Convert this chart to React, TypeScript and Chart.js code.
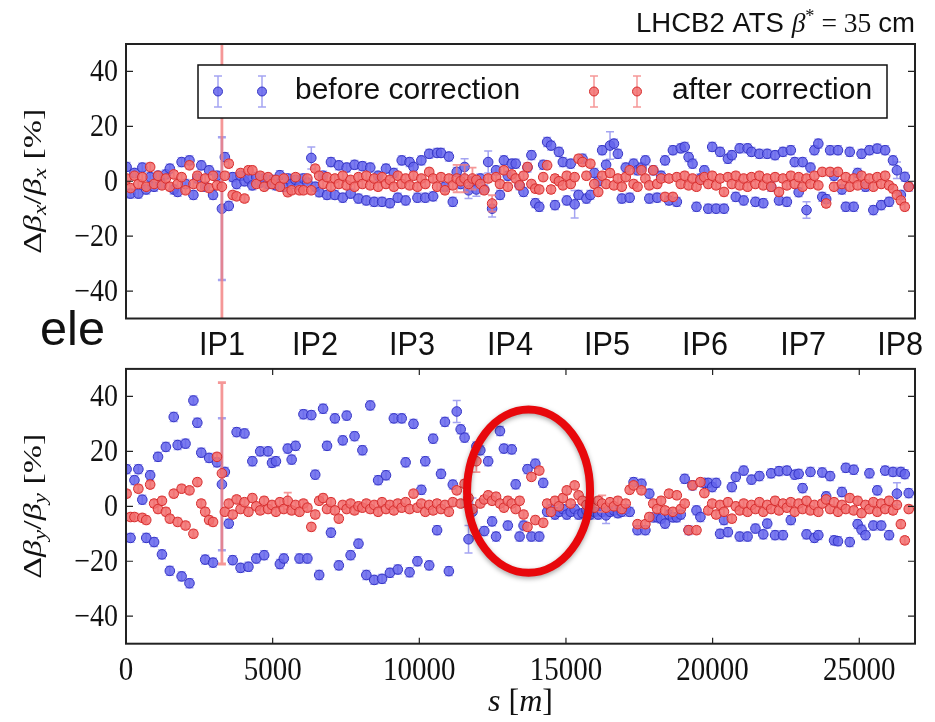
import React, { useEffect, useRef } from "react";
import { Chart, registerables } from "chart.js";
Chart.register(...registerables);

const SANS = '"Liberation Sans", Arial, sans-serif';
const SERIF = '"Liberation Serif", "Times New Roman", serif';

// BPM longitudinal positions s [m]
const S = [20,154,288,422,556,690,824,958,1092,1226,1360,1494,1628,1762,1896,2030,2164,2298,2432,2566,
2700,2834,2968,3102,3270,3370,3504,3638,3772,3906,4040,4174,4308,4442,4576,4710,4844,4978,5112,5246,
5380,5514,5648,5782,5916,6050,6184,6318,6452,6586,6720,6854,6988,7122,7256,7390,7524,7658,7792,7926,
8060,8194,8328,8462,8596,8730,8864,8998,9132,9266,9400,9534,9668,9802,9936,10070,10204,10338,10472,10606,
10740,10874,11008,11142,11276,11410,11544,11678,11812,11946,12080,12214,12348,12482,12616,12750,12884,13018,13152,13286,
13420,13554,13688,13822,13956,14090,14224,14358,14492,14626,14760,14894,15028,15162,15296,15430,15564,15698,15832,15966,
16100,16234,16368,16502,16636,16770,16904,17038,17172,17306,17440,17574,17708,17842,17976,18110,18244,18378,18512,18646,
18780,18914,19048,19182,19316,19450,19584,19718,19852,19986,20120,20254,20388,20522,20656,20790,20924,21058,21192,21326,
21460,21594,21728,21862,21996,22130,22264,22398,22532,22666,22800,22934,23068,23202,23336,23470,23604,23738,23872,24006,
24140,24274,24408,24542,24676,24810,24944,25078,25212,25346,25480,25614,25748,25882,26016,26150,26284,26418,26552,26686];

// Horizontal beta-beating [%]
const BX_BEFORE = [5.2,-4.5,3,-4.5,5,-3,1.5,-2,2,-1,
2.5,4.6,-3,-3.9,7,-1,7.6,-5,1,5.8,
-2,4,-5,2,-10,8.8,-9,1.5,-1,2,
0,1,-1.5,1.5,-0.5,1,-1,0.5,-1.5,2.2,
-2,1,-1,0.5,-1.5,1,-0.5,8.5,-2,-4,
2,-5,7,-5,5.8,-6,5,-4.5,6,-6.3,
5.5,-7,5,-7.5,2,-7.5,4.6,-8,3,-6,
7.6,-7,7,5.2,-6,7.6,-6,10,-5.5,10.3,
10.3,-2,9,-7.5,3.4,-1,5.2,-3.3,0,-3,
1,-3,7,-10,4,-5,7.6,2,6.4,6.4,
-1.5,-3.9,5,9.5,-8,-9.3,6,14.3,13,-8.7,
10.7,7,-7,6.4,-8.4,-5,8.2,-6.3,-5,3,
0,11.3,6,13,13.7,10,-6.3,5,-6,6.4,
4,5,7.6,-6.3,4,-6,2,7.6,-7,11.3,
-7.5,12,12.5,8.8,6.4,-9.3,1,4,-10,12.5,
-10,10.7,-10,8.2,9.5,-5.7,12,-7,12,10.7,
-7.5,10,-8,10,-2,9.5,-7,10.7,-7.5,11.3,
7,-4,7,-10.5,5,11.3,13.7,-5.7,-6.5,11.3,
2,11.3,-3,-9.3,10.7,-9.3,3,10,-2,11.3,
-10.5,11.9,-8.7,11.3,-7.5,7.6,4,-5,1.6,-2];

const BX_AFTER = [1,-2.5,2,-1,1.5,-2,5.2,-1,2,-1.5,
1,-2,2.5,-1,1.5,-3.3,5.8,-1,2,-2,
1,-2.5,2,-1.5,-2,2,6.4,-5,-5.5,3,
-6.3,4,4,-1,2,-2,1.5,-1,0.5,-2,
1,-4,-3.3,1.5,-3.3,-3.3,1,-3.3,4.6,2,
-1,1.5,-2,1,-1,2,-1.5,0.5,-2,1.5,
-1,2,-1.5,1,-2,1.5,-1,0.5,-2,2,
-1,1,-1.5,2,-2,1,-1,3.4,1,-2,
1.5,-3.3,1,-1.5,1,0,1,-1,1,0.5,
-1,-3.3,1,-8.1,1.5,-1,4,-2,2.5,1,
-1.5,2,5.2,-1,-2.7,-3,1.5,5.8,-3,1,
0,-1.5,2,-1,1.5,8.2,7,2,6.4,-1,
-3.9,2,-1,3,-1.5,1,-2,1.5,4,-1,
-2,4,1,-1.5,4,-1,1,-5.7,1,-5.7,
1.5,-1,2,-1.5,1,-2,0.5,1.5,-1,2,
-1.5,1,-3.9,1.5,-1,2,-1.5,1,-2,1.5,
-1,2,-1.5,1,-2,1.5,-3.9,1,-1.5,2,
-1,1.5,-2,1,-1,2,-1.5,3.4,-8.1,3.4,
-2,3.4,-1,1.5,-2,1,-1.5,2,-1,1,
-2,1.5,-1,2,-1.5,-2.7,-5,-7,-9.3,-2];

// Vertical beta-beating [%]
const BY_BEFORE = [13.5,-11.5,9.5,13.5,2.4,-11.5,11.3,-13,18,-17.5,
21.6,-23.5,32.5,22.3,-25.5,22.8,-28,38.5,30.4,19.5,
-19.4,17.6,-20.5,16,8,12.5,-6.3,-19.6,27,-22.4,
26.5,-22,16.4,-19,20,-17.8,20,15.8,16.4,-21,
-19,21,17,22,-19,33.5,-19,33.2,11.5,-25,
35.5,22,-9.6,32,-21.5,24,33,-17.8,25.5,-13.6,
20.4,-25,36.7,-26.8,9.5,-26.4,11.3,-24.2,32,-23,
32,16,-24,30,-20,6,16.4,-21.5,24.6,-8.7,
11.8,30.7,-23.6,7.9,34.5,28,25,-12,-2,21.8,
20.4,-9,16.4,-5.5,-11,27.4,21,-7,20.7,8,
-11,-7,13.5,-11,15.5,-11,8.5,-2,-1,-3,
-2,-1,-3,-2,-1,-3,-2.5,-1.5,-3,-2,
-3,-2,-3.3,-2,-1.5,-2.5,-2,-1,-2,8.8,
-8.7,8.2,-8.7,4.6,-4,-4,-4.5,-6.3,-3,-4,
-4,-3,10,-8.7,7.6,-1.5,-3.9,8.5,8.5,7,
8.5,-10,-5,-9.4,7,10.7,-11,13,-11,9.7,
-8.1,11,-10.2,-6.3,12,-10.5,12.8,-10.5,13,-5,
11.5,11.8,6.6,-10.2,12.5,-11.5,-10.5,12.3,3.6,11,
-12.4,-12.7,5.2,14,-13,13.3,-6.5,-8.5,-10.5,12,
-7,5.8,-7,13,-10.5,12.5,4.6,12.5,11.7,4.8];

const BY_AFTER = [4.6,-3.9,-3.9,6.4,-4.2,-5,7.9,1,-1,2,
-2,-4.5,4.6,-5.7,6.4,-7,5.8,-10,8.8,1,
-2,-5,-5.7,18,12,-2,1,-3,2.5,-1,
1.5,-2,3,0,-1.5,2,-1,0.5,-2,1.5,
-1,2,-1.5,0.5,-2,1,-0.5,-7.5,-3,2,
3,-1,1.5,-1.5,-4.5,0.5,-1,1,-1.5,0,
-0.5,1,-1,0.5,-2,1.5,-1,0.5,-1.5,1,
-0.5,1.5,-1,4.6,-0.5,1,-2,0.5,-1.5,1,
-1,0.5,-2,1.5,5.8,1,8.2,3,-1,16.4,
1,2.5,4,2,3.5,1,-0.5,2,1,-1,
2,-3,-7.5,10.7,-5,13,-6,1,-2,2,
0,3,5.8,1,7.6,4,2,0.5,1.5,-0.5,
2,1,-0.5,1.5,0,2,-1,1,6,7.6,
-6.5,5.8,-6.5,-3.9,1,-1,2,-1.5,4.6,-2,
4,-1,1,-8.7,7.6,-8.7,8.8,4.8,-1.5,1,
-3,0.5,-2,1.5,-4.5,0,-1.5,1,-2,0.5,
-1,1.5,-2,0.5,-1,2,-1.5,1,-0.5,1.5,
-2,1,-1,2,-1.5,0.5,-2,1,2.5,-1,
1.5,-2,0.5,-1,3,-1.5,2,-2.5,0.5,-1,
1.5,-2,1,-1,2,-1.5,0.5,-6.5,-12.4,-1];

// Error bars: typical size and the few larger ones [bpm index, error %]
const ERR_BEFORE = 1.6;
const ERR_AFTER = 1.3;
const BX_BEFORE_ERR: [number, number][] = [[24, 26], [47, 4], [86, 3], [87, 3], [89, 2.5], [92, 4], [93, 3], [114, 5], [123, 5], [173, 3], [196, 3]];
const BX_AFTER_ERR: [number, number][] = [[24, 60], [84, 5], [86, 5], [88, 4], [93, 3]];
const BY_BEFORE_ERR: [number, number][] = [[24, 24], [84, 4], [87, 5], [88, 5], [122, 3], [196, 4]];
const BY_AFTER_ERR: [number, number][] = [[24, 33], [41, 3], [89, 4], [121, 3]];

const IP_LABELS = ["IP1", "IP2", "IP3", "IP4", "IP5", "IP6", "IP7", "IP8"];
const IP_POS = [3274, 6445, 9753, 13094, 16402, 19744, 23086, 26393];
const X_TICKS = [0, 5000, 10000, 15000, 20000, 25000];
const Y_TICKS = [-40, -20, 0, 20, 40];
const X_RANGE = [0, 26900];
const Y_RANGE = [-50, 50];

const TITLE = "LHCB2 ATS";
const LEGEND_BEFORE = "before correction";
const LEGEND_AFTER = "after correction";
// highlighted region (s [m], Δβ [%])
const HIGHLIGHT = { s: 13725, v: 5.5, rs: 2097, rv: 29.7 };

const BLUE_FILL = "rgba(100,100,236,0.85)";
const BLUE_EDGE = "#3434c4";
const BLUE_ERR = "rgba(125,125,235,0.7)";
const RED_FILL = "rgba(242,110,110,0.85)";
const RED_EDGE = "#d62c2c";
const RED_ERR = "rgba(242,125,125,0.8)";

function points(vals: number[], errDefault: number, over: [number, number][]) {
  const m = new Map(over);
  return S.map((s, i) => ({ x: s, y: vals[i], err: m.has(i) ? (m.get(i) as number) : errDefault }));
}

type Seg = { t: string; font: string; dy?: number };
function drawSegs(ctx: CanvasRenderingContext2D, segs: Seg[], x: number, y: number, align: string, targetW?: number, sy = 1) {
  let w = 0;
  const ws: number[] = [];
  for (const s of segs) { ctx.font = s.font; const m = ctx.measureText(s.t).width; ws.push(m); w += m; }
  const sx = targetW ? targetW / w : 1;
  ctx.save();
  ctx.translate(x, y);
  ctx.scale(sx, sy);
  ctx.textBaseline = "alphabetic";
  ctx.textAlign = "left";
  let cx = align === "left" ? 0 : align === "center" ? -w / 2 : -w;
  segs.forEach((s, i) => { ctx.font = s.font; ctx.fillText(s.t, cx, s.dy || 0); cx += ws[i]; });
  ctx.restore();
}

const CAP = 4;
const errorBarPlugin = {
  id: "errbars",
  beforeDatasetDraw(chart: any, args: any) {
    const ds = chart.data.datasets[args.index];
    const ctx = chart.ctx, ys = chart.scales.y, a = chart.chartArea;
    ctx.save();
    ctx.beginPath();
    ctx.rect(a.left, a.top, a.right - a.left, a.bottom - a.top);
    ctx.clip();
    ctx.strokeStyle = ds.errColor;
    args.meta.data.forEach((el: any, i: number) => {
      const p = ds.data[i];
      const x = el.x;
      const y1 = ys.getPixelForValue(p.y + p.err), y2 = ys.getPixelForValue(p.y - p.err);
      ctx.lineWidth = p.err > 20 ? ds.errWidth + 1 : ds.errWidth;
      ctx.beginPath();
      ctx.moveTo(x, y1); ctx.lineTo(x, y2);
      ctx.moveTo(x - CAP, y1); ctx.lineTo(x + CAP, y1);
      ctx.moveTo(x - CAP, y2); ctx.lineTo(x + CAP, y2);
      ctx.stroke();
    });
    ctx.restore();
  },
};

function yLabelSegs(sub: string): Seg[] {
  const n = `26px ${SERIF}`, it = `italic 26px ${SERIF}`, sb = `italic 18px ${SERIF}`;
  return [
    { t: "Δ", font: n }, { t: "β", font: it }, { t: sub, font: sb, dy: 5 },
    { t: "/", font: n }, { t: "β", font: it }, { t: sub, font: sb, dy: 5 },
    { t: " [%]", font: n },
  ];
}

function makeDecor(panel: "top" | "bottom") {
  return {
    id: "decor-" + panel,
    afterDraw(chart: any) {
      const ctx = chart.ctx as CanvasRenderingContext2D;
      const a = chart.chartArea, xs = chart.scales.x, ys = chart.scales.y;
      const off = panel === "top" ? 0 : 360;
      ctx.save();
      if (panel === "bottom") {
        const cx = xs.getPixelForValue(HIGHLIGHT.s), cy = ys.getPixelForValue(HIGHLIGHT.v);
        const rx = xs.getPixelForValue(HIGHLIGHT.s + HIGHLIGHT.rs) - cx;
        const ry = cy - ys.getPixelForValue(HIGHLIGHT.v + HIGHLIGHT.rv);
        ctx.save();
        ctx.shadowColor = "rgba(0,0,0,0.35)";
        ctx.shadowBlur = 5;
        ctx.shadowOffsetY = 2;
        ctx.strokeStyle = "#e8080c";
        ctx.lineWidth = 8;
        ctx.beginPath();
        ctx.ellipse(cx, cy, rx, ry, 0, 0, Math.PI * 2);
        ctx.stroke();
        ctx.restore();
      }
      // frame
      ctx.strokeStyle = "#222";
      ctx.lineWidth = 2;
      ctx.strokeRect(a.left, a.top, a.right - a.left, a.bottom - a.top);
      ctx.lineWidth = 1.2;
      ctx.beginPath();
      for (const t of Y_TICKS) {
        const y = ys.getPixelForValue(t);
        ctx.moveTo(a.left, y); ctx.lineTo(a.left + 7, y);
        ctx.moveTo(a.right, y); ctx.lineTo(a.right - 7, y);
      }
      if (panel === "bottom") {
        for (const t of X_TICKS) {
          const x = xs.getPixelForValue(t);
          ctx.moveTo(x, a.top); ctx.lineTo(x, a.top + 6);
          ctx.moveTo(x, a.bottom); ctx.lineTo(x, a.bottom - 6);
        }
      }
      ctx.stroke();
      ctx.fillStyle = "#111";
      // y tick labels
      for (const t of Y_TICKS) {
        const y = ys.getPixelForValue(t);
        const txt = t < 0 ? "\u2212" + Math.abs(t) : String(t);
        drawSegs(ctx, [{ t: txt, font: `28px ${SERIF}` }], a.left - 8, y + 10, "right", undefined, 1.12);
      }
      // y axis label
      ctx.save();
      ctx.translate(41, (a.top + a.bottom) / 2);
      ctx.rotate(-Math.PI / 2);
      drawSegs(ctx, yLabelSegs(panel === "top" ? "x" : "y"), 0, 0, "center", 145);
      ctx.restore();
      if (panel === "top") {
        IP_POS.forEach((p, i) => {
          drawSegs(ctx, [{ t: IP_LABELS[i], font: `28px ${SANS}` }], xs.getPixelForValue(p), 355, "center", 46, 1.2);
        });
        // title
        drawSegs(ctx, [
          { t: TITLE + " ", font: `24px ${SANS}` },
          { t: "β", font: `italic 24px ${SERIF}` },
          { t: "*", font: `16px ${SERIF}`, dy: -9 },
          { t: " = 35 ", font: `24px ${SERIF}` },
          { t: "cm", font: `24px ${SANS}` },
        ], 915, 32, "right", 279, 1.15);
        // slide text fragment
        drawSegs(ctx, [{ t: "ele", font: `48px ${SANS}` }], 40, 345, "left", 65);
        // legend
        ctx.fillStyle = "#fff";
        ctx.fillRect(198, 65, 689, 53);
        ctx.strokeStyle = "#111";
        ctx.lineWidth = 1.5;
        ctx.strokeRect(198, 65, 689, 53);
        const mark = (x: number, fill: string, edge: string, err: string) => {
          ctx.strokeStyle = err; ctx.lineWidth = 1.5;
          ctx.beginPath();
          ctx.moveTo(x, 76); ctx.lineTo(x, 107);
          ctx.moveTo(x - CAP, 76); ctx.lineTo(x + CAP, 76);
          ctx.moveTo(x - CAP, 107); ctx.lineTo(x + CAP, 107);
          ctx.stroke();
          ctx.beginPath(); ctx.arc(x, 91.5, 4.5, 0, Math.PI * 2);
          ctx.fillStyle = fill; ctx.fill();
          ctx.strokeStyle = edge; ctx.lineWidth = 1; ctx.stroke();
        };
        mark(218, BLUE_FILL, BLUE_EDGE, BLUE_ERR);
        mark(262, BLUE_FILL, BLUE_EDGE, BLUE_ERR);
        mark(594, RED_FILL, RED_EDGE, RED_ERR);
        mark(637, RED_FILL, RED_EDGE, RED_ERR);
        ctx.fillStyle = "#111";
        drawSegs(ctx, [{ t: LEGEND_BEFORE, font: `30px ${SANS}` }], 295, 99, "left");
        drawSegs(ctx, [{ t: LEGEND_AFTER, font: `30px ${SANS}` }], 672, 99, "left");
      } else {
        for (const t of X_TICKS) {
          drawSegs(ctx, [{ t: String(t), font: `29px ${SERIF}` }], xs.getPixelForValue(t), 680 - off, "center", undefined, 1.15);
        }
        drawSegs(ctx, [
          { t: "s", font: `italic 28px ${SERIF}` },
          { t: " [", font: `28px ${SERIF}` },
          { t: "m", font: `italic 28px ${SERIF}` },
          { t: "]", font: `28px ${SERIF}` },
        ], (a.left + a.right) / 2, 711 - off, "center", 65, 1.15);
      }
      ctx.restore();
    },
  };
}

function makeConfig(panel: "top" | "bottom"): any {
  const before = panel === "top" ? points(BX_BEFORE, ERR_BEFORE, BX_BEFORE_ERR) : points(BY_BEFORE, ERR_BEFORE, BY_BEFORE_ERR);
  const after = panel === "top" ? points(BX_AFTER, ERR_AFTER, BX_AFTER_ERR) : points(BY_AFTER, ERR_AFTER, BY_AFTER_ERR);
  const padding = panel === "top"
    ? { left: 126, right: 20, top: 44, bottom: 41.5 }
    : { left: 126, right: 20, top: 8.9, bottom: 78.3 };
  return {
    type: "scatter",
    data: {
      datasets: [
        { label: LEGEND_AFTER, data: after, pointRadius: 4.8, pointBorderWidth: 1, backgroundColor: RED_FILL, borderColor: RED_EDGE, errColor: RED_ERR, errWidth: 1.8 },
        { label: LEGEND_BEFORE, data: before, pointRadius: 4.8, pointBorderWidth: 1, backgroundColor: BLUE_FILL, borderColor: BLUE_EDGE, errColor: BLUE_ERR, errWidth: 1.5 },
      ],
    },
    options: {
      responsive: false,
      animation: false,
      devicePixelRatio: 1,
      events: [],
      layout: { padding },
      plugins: { legend: { display: false }, tooltip: { enabled: false } },
      scales: {
        x: { type: "linear", min: X_RANGE[0], max: X_RANGE[1], display: false },
        y: { type: "linear", min: Y_RANGE[0], max: Y_RANGE[1], display: false },
      },
    },
    plugins: [errorBarPlugin, makeDecor(panel)],
  };
}

export default function App() {
  const topRef = useRef<HTMLCanvasElement>(null);
  const botRef = useRef<HTMLCanvasElement>(null);
  useEffect(() => {
    const c1 = new Chart(topRef.current as HTMLCanvasElement, makeConfig("top"));
    const c2 = new Chart(botRef.current as HTMLCanvasElement, makeConfig("bottom"));
    return () => { c1.destroy(); c2.destroy(); };
  }, []);
  return (
    <div style={{ position: "absolute", left: 0, top: 0, width: 935, height: 722, background: "#fff", overflow: "hidden" }}>
      <canvas ref={topRef} width={935} height={360} style={{ position: "absolute", left: 0, top: 0, width: 935, height: 360 }} />
      <canvas ref={botRef} width={935} height={362} style={{ position: "absolute", left: 0, top: 360, width: 935, height: 362 }} />
    </div>
  );
}
